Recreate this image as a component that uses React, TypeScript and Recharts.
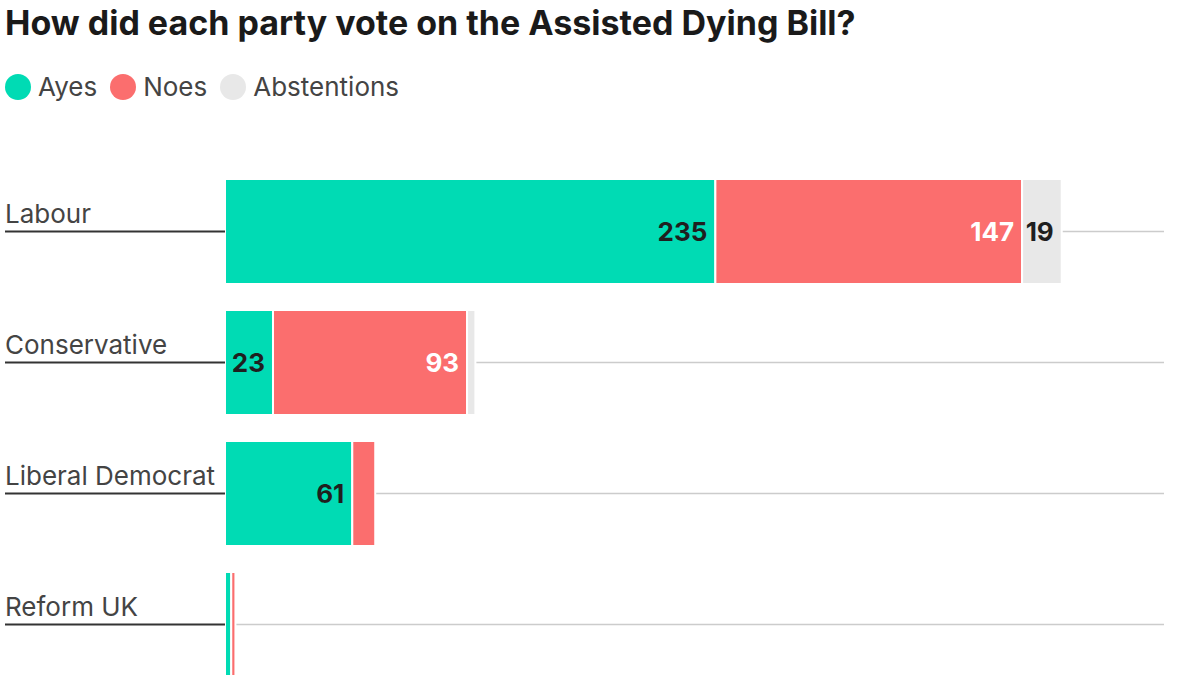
import React from "react";
import { BarChart, Bar, XAxis, YAxis, CartesianGrid, LabelList } from "recharts";

const parties = ["Labour", "Conservative", "Liberal Democrat", "Reform UK"];
const ayes = [235, 23, 61, 3];
const noes = [147, 93, 11, 2];
const abstentions = [19, 4, 0, 0];

const seriesNames = ["Ayes", "Noes", "Abstentions"];
const seriesColors = ["#00DBB4", "#FB6E6E", "#E8E8E8"];
const labelColors = ["#1f1f1f", "#ffffff", "#1f1f1f"];

const data = parties.map((p, i) => ({
  party: p,
  ayes: ayes[i],
  noes: noes[i],
  abstentions: abstentions[i],
}));

const FONT = "Inter, 'Noto Sans', sans-serif";

const PartyTick = (props: any) => {
  const { y, payload } = props;
  return (
    <g>
      <text x={5} y={y - 9} fill="#444" fontSize={26} fontFamily={FONT} textAnchor="start">
        {payload.value}
      </text>
      <line x1={5} x2={225} y1={y} y2={y} stroke="#333" strokeWidth={2} />
    </g>
  );
};

const makeLabel = (color: string) => (props: any) => {
  const { x, y, width, height, value } = props;
  if (!width || width < 30) return null;
  return (
    <text
      x={x + width - 8}
      y={y + height / 2}
      fill={color}
      fontSize={26}
      fontWeight={700}
      fontFamily={FONT}
      textAnchor="end"
      dominantBaseline="central"
    >
      {value}
    </text>
  );
};

const gridGen = (props: any) => {
  const off = props && props.offset;
  const top = off && typeof off.top === "number" ? off.top : 166;
  const h = off && typeof off.height === "number" ? off.height : props.height;
  const band = h / parties.length;
  return parties.map((_, i) => top + band * (i + 0.5));
};

export default function App() {
  const keys = ["ayes", "noes", "abstentions"];
  return (
    <div
      style={{
        position: "fixed",
        top: 0,
        left: 0,
        width: 1200,
        height: 675,
        overflow: "hidden",
        background: "#fff",
        fontFamily: FONT,
      }}
    >
      <div
        style={{
          position: "absolute",
          left: 5,
          top: 2,
          fontSize: 34,
          fontWeight: 700,
          color: "#1a1a1a",
          whiteSpace: "nowrap",
        }}
      >
        How did each party vote on the Assisted Dying Bill?
      </div>
      <div
        style={{
          position: "absolute",
          left: 5,
          top: 71,
          display: "flex",
          alignItems: "center",
          fontSize: 26,
          color: "#444",
        }}
      >
        {seriesNames.map((n, i) => (
          <div key={n} style={{ display: "flex", alignItems: "center", marginRight: 13 }}>
            <span
              style={{
                display: "inline-block",
                width: 26,
                height: 26,
                borderRadius: 13,
                background: seriesColors[i],
                marginRight: 7,
              }}
            />
            <span>{n}</span>
          </div>
        ))}
      </div>
      <div style={{ position: "absolute", left: 0, top: 0 }}>
        <BarChart
          width={1200}
          height={700}
          data={data}
          layout="vertical"
          margin={{ top: 166, right: 36, bottom: 10, left: 5 }}
          barSize={105}
        >
          <CartesianGrid
            vertical={false}
            horizontal={true}
            stroke="#cccccc"
            strokeWidth={1.5}
            horizontalCoordinatesGenerator={gridGen}
          />
          <XAxis type="number" domain={[0, 450]} hide />
          <YAxis
            type="category"
            dataKey="party"
            width={220}
            axisLine={false}
            tickLine={false}
            tick={<PartyTick />}
            interval={0}
          />
          {keys.map((k, i) => (
            <Bar
              key={k}
              dataKey={k}
              name={seriesNames[i]}
              stackId="a"
              fill={seriesColors[i]}
              stroke="#ffffff"
              strokeWidth={2}
              isAnimationActive={false}
            >
              <LabelList dataKey={k} content={makeLabel(labelColors[i])} />
            </Bar>
          ))}
        </BarChart>
      </div>
    </div>
  );
}
